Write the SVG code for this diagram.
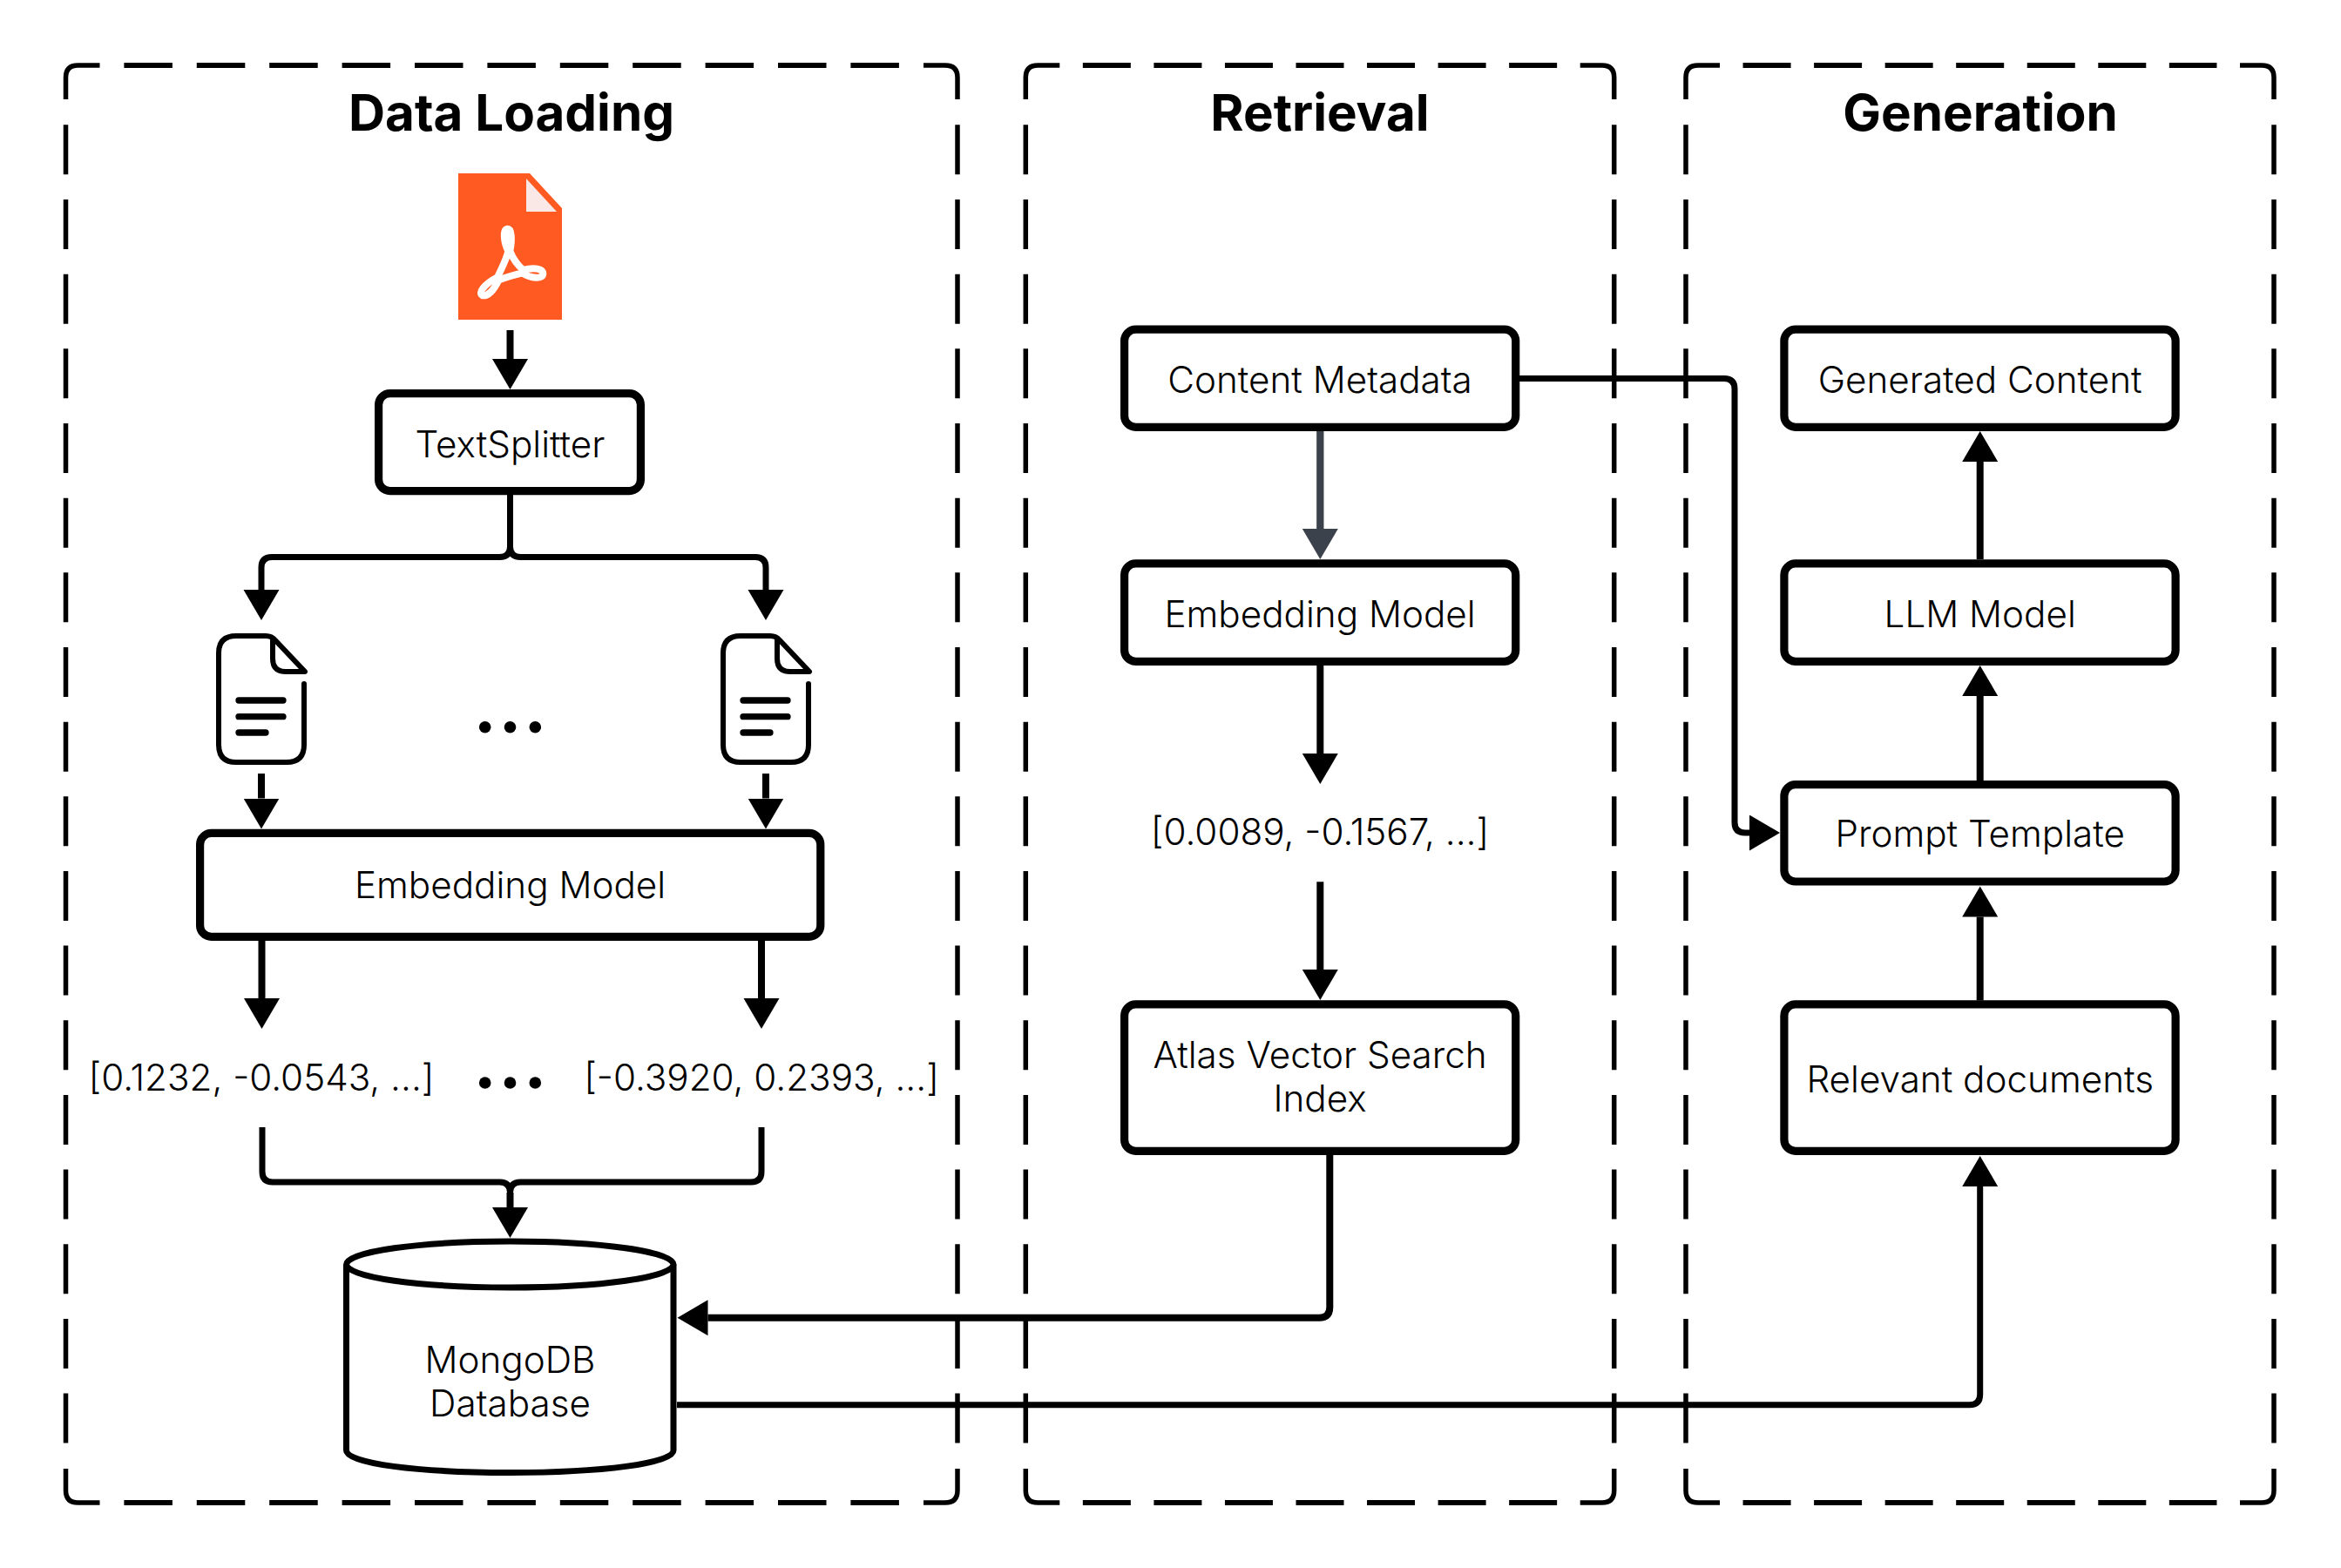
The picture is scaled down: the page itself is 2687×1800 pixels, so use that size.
<svg xmlns="http://www.w3.org/2000/svg" width="2687" height="1800" viewBox="0 0 2687 1800">
<style>
text{font-family:Inter,"Liberation Sans",sans-serif;font-size:42.2px;font-weight:350;fill:#000;text-anchor:middle}
text.title{font-size:58.3px;font-weight:700}
.box{fill:#fff;stroke:#000;stroke-width:9.2}
.corner{fill:none;stroke:#000;stroke-width:5.5}
.dh{fill:none;stroke:#000;stroke-width:5.8}
.dv{fill:none;stroke:#000;stroke-width:5.5;stroke-dasharray:57 28.66}
.c{fill:none;stroke:#000;stroke-width:8;marker-end:url(#ah)}
.e{fill:none;stroke:#000;stroke-width:7}
.a{marker-end:url(#ah)}
.doc{fill:none;stroke:#000;stroke-width:6;stroke-linecap:round;stroke-linejoin:round}
.docl{fill:none;stroke:#000;stroke-width:7.3;stroke-linecap:round}
</style>
<defs>
<marker id="ah" markerUnits="userSpaceOnUse" markerWidth="36" markerHeight="42" refX="0" refY="20.5" orient="auto"><path d="M0 0L35 20.5L0 41z" fill="#000"/></marker>
<marker id="ahg" markerUnits="userSpaceOnUse" markerWidth="36" markerHeight="42" refX="0" refY="20.5" orient="auto"><path d="M0 0L35 20.5L0 41z" fill="#3c424b"/></marker>
<g id="docicon">
<path class="doc" d="M349 785V855Q349 875 329 875H271Q251 875 251 855V750Q251 730 271 730H305Q312 730 316 735L350 771H328Q313 771 313 756V733"/>
<path class="docl" d="M274 804H325M274 822.7H325M274 841H305"/>
</g>
</defs>
<g id="group-data-loading">
<path class="corner" d="M75.5 114V89Q75.5 75 89.5 75H114.5M1060 75H1085Q1099 75 1099 89V114M1099 1686V1711Q1099 1725 1085 1725H1060M114.5 1725H89.5Q75.5 1725 75.5 1711V1686"/>
<path class="dh" stroke-dasharray="55.5 27.9" d="M142.4 75H1032.1M142.4 1725H1032.1"/>
<path class="dv" d="M75.5 143.36V1656.64M1099 143.36V1656.64"/>
<text class="title" x="587" y="150">Data Loading</text>
</g>
<g id="group-retrieval">
<path class="corner" d="M1177.3 114V89Q1177.3 75 1191.3 75H1216.3M1813.7 75H1838.7Q1852.7 75 1852.7 89V114M1852.7 1686V1711Q1852.7 1725 1838.7 1725H1813.7M1216.3 1725H1191.3Q1177.3 1725 1177.3 1711V1686"/>
<path class="dh" stroke-dasharray="55 26.55" d="M1242.85 75H1787.15M1242.85 1725H1787.15"/>
<path class="dv" d="M1177.3 143.36V1656.64M1852.7 143.36V1656.64"/>
<text class="title" x="1515" y="150">Retrieval</text>
</g>
<g id="group-generation">
<path class="corner" d="M1935 114V89Q1935 75 1949 75H1974M2571 75H2596Q2610 75 2610 89V114M2610 1686V1711Q2610 1725 2596 1725H2571M1974 1725H1949Q1935 1725 1935 1711V1686"/>
<path class="dh" stroke-dasharray="55 26.55" d="M2000.55 75H2544.45M2000.55 1725H2544.45"/>
<path class="dv" d="M1935 143.36V1656.64M2610 143.36V1656.64"/>
<text class="title" x="2273" y="150">Generation</text>
</g>
<g id="connectors">
<path class="c" d="M585.5 379V412"/>
<path class="e a" d="M585.5 568V627.5Q585.5 639.5 573.5 639.5H312Q300 639.5 300 651.5V677"/>
<path class="e a" d="M585.5 568V627.5Q585.5 639.5 597.5 639.5H867Q879 639.5 879 651.5V677"/>
<path class="c" d="M300 888V916.5"/>
<path class="c" d="M879 888V916.5"/>
<path class="c" d="M300.5 1080V1146"/>
<path class="c" d="M874 1080V1146"/>
<path class="e" d="M301 1294V1345Q301 1357 313 1357H573.5Q585.5 1357 585.5 1369"/>
<path class="e" d="M874 1294V1345Q874 1357 862 1357H597.5Q585.5 1357 585.5 1369"/>
<path class="c" d="M585.5 1369V1386"/>
<path fill="none" stroke="#3c424b" stroke-width="8.3" marker-end="url(#ahg)" d="M1515.3 495V607"/>
<path class="c" d="M1515.3 764V865"/>
<path class="c" d="M1515.3 1012.3V1113"/>
<path class="e a" style="stroke-width:8" d="M1526.3 1326V1500.7Q1526.3 1512.7 1514.3 1512.7H812.5"/>
<path class="e a" d="M1744 434.6H1979Q1991 434.6 1991 446.6V944Q1991 956 2003 956H2008"/>
<path class="e a" d="M777 1612.7H2260.7Q2272.7 1612.7 2272.7 1600.7V1362"/>
<path class="c" d="M2272.7 1148.5V1052.5"/>
<path class="c" d="M2272.7 896V799"/>
<path class="c" d="M2272.7 642V530"/>
</g>
<g id="pdf-icon">
<path d="M526 199H608L645 239V367H526z" fill="#ff5a22"/>
<path d="M604 205L639 243H604z" fill="#f9e8e5"/>
<path transform="translate(440 160) scale(.3333)" fill="none" stroke="#fff" stroke-width="24" stroke-linejoin="round" d="M428 308C442 308 444 345 436 385C450 420 470 440 482 450C520 440 550 445 550 463C550 482 510 480 478 460C450 468 420 475 397 485C380 520 360 540 342 538C325 530 345 500 393 475C410 440 425 410 430 385C415 355 410 310 428 308Z"/>
</g>
<g id="node-textsplitter"><rect class="box" x="434.6" y="451.6" width="300.8" height="112" rx="13"/><text x="585.5" y="525">TextSplitter</text></g>
<g id="doc-left"><use href="#docicon"/></g>
<g id="doc-right"><use href="#docicon" x="579"/></g>
<g id="dots-top"><circle cx="556.7" cy="834.7" r="6.8"/><circle cx="585.5" cy="834.7" r="6.8"/><circle cx="614.3" cy="834.7" r="6.8"/></g>
<g id="node-embedding-wide"><rect class="box" x="229.6" y="956.4" width="712.2" height="119" rx="13"/><text x="585.5" y="1031">Embedding Model</text></g>
<g id="vec-left"><text x="300" y="1251.5">[0.1232, -0.0543, ...]</text></g>
<g id="dots-bottom"><circle cx="556.7" cy="1243" r="6.8"/><circle cx="585.5" cy="1243" r="6.8"/><circle cx="614.3" cy="1243" r="6.8"/></g>
<g id="vec-right"><text x="874" y="1251.5">[-0.3920, 0.2393, ...]</text></g>
<g id="node-mongodb">
<path d="M397.5 1451.5V1665C397.5 1680 480 1690.5 585.3 1690.5C690 1690.5 773 1680 773 1665V1451.5" fill="#fff" stroke="#000" stroke-width="7"/>
<ellipse cx="585.3" cy="1451.5" rx="187.7" ry="26.5" fill="#fff" stroke="#000" stroke-width="7"/>
<text x="585.5" y="1576">MongoDB</text><text x="585.5" y="1626">Database</text>
</g>
<g id="node-content-metadata"><rect class="box" x="1290.6" y="378.1" width="449.1" height="112.3" rx="13"/><text x="1515" y="451">Content Metadata</text></g>
<g id="node-embedding"><rect class="box" x="1290.6" y="646.9" width="449.1" height="112.5" rx="13"/><text x="1515" y="720">Embedding Model</text></g>
<g id="vec-query"><text x="1515" y="970">[0.0089, -0.1567, ...]</text></g>
<g id="node-atlas"><rect class="box" x="1290.6" y="1152.9" width="449.1" height="168.5" rx="13"/><text x="1515" y="1226">Atlas Vector Search</text><text x="1515" y="1276">Index</text></g>
<g id="node-generated"><rect class="box" x="2047.9" y="378.1" width="449.2" height="112.3" rx="13"/><text x="2272.7" y="451">Generated Content</text></g>
<g id="node-llm"><rect class="box" x="2047.9" y="646.9" width="449.2" height="112.5" rx="13"/><text x="2272.7" y="720">LLM Model</text></g>
<g id="node-prompt"><rect class="box" x="2047.9" y="900.6" width="449.2" height="111.4" rx="13"/><text x="2272.7" y="972">Prompt Template</text></g>
<g id="node-relevant"><rect class="box" x="2047.9" y="1152.9" width="449.2" height="168.5" rx="13"/><text x="2272.7" y="1254">Relevant documents</text></g>
</svg>
